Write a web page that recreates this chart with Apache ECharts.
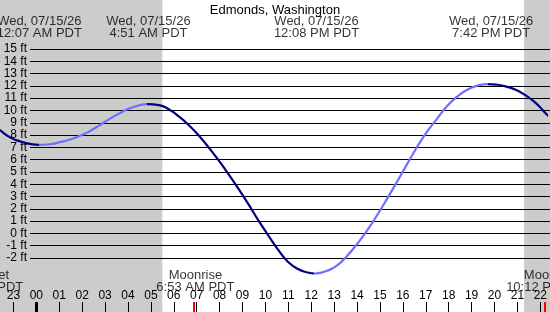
<!DOCTYPE html>
<html><head><meta charset="utf-8">
<script src="https://cdn.jsdelivr.net/npm/echarts@6/dist/echarts.min.js"></script>
<style>html,body{margin:0;padding:0;background:#fff}#c{width:550px;height:312px}</style>
</head><body><div id="c"></div>
<script>
// ---- data (hours after midnight of 07/15/26, PDT) ----
const stationName = 'Edmonds, Washington';
const dateLabel = 'Wed, 07/15/26';
const tideHours = [-1.80,-1.59,-1.15,-0.72,-0.29,0.12,0.58,1.01,1.45,1.88,2.32,2.75,3.18,3.62,4.05,4.48,4.85,5.35,5.78,6.22,6.65,7.08,7.52,7.95,8.38,8.82,9.25,9.68,10.12,10.55,10.98,11.42,11.85,12.13,12.42,12.72,13.15,13.58,14.02,14.45,14.88,15.32,15.75,16.19,16.62,17.05,17.49,17.92,18.35,18.79,19.22,19.70,20.09,20.52,20.95,21.39,21.82,22.25,22.50];
const tideFeet  = [8.75,8.41,7.81,7.49,7.28,7.20,7.25,7.41,7.62,7.92,8.30,8.79,9.30,9.76,10.16,10.42,10.52,10.44,10.10,9.52,8.82,7.98,7.00,5.96,4.85,3.64,2.40,1.10,-0.15,-1.32,-2.30,-2.90,-3.18,-3.26,-3.19,-3.02,-2.58,-1.80,-0.82,0.26,1.50,2.85,4.22,5.66,7.03,8.26,9.32,10.34,11.10,11.66,12.00,12.15,12.10,11.94,11.66,11.19,10.58,9.73,9.30];
const extremeHours = [0.117, 4.85, 12.133, 19.7];
const extremeTypes = ['L', 'H', 'L', 'H'];
const extremeTimes = ['12:07 AM PDT', '4:51 AM PDT', '12:08 PM PDT', '7:42 PM PDT'];
const moonHours = [-2.27, 6.883, 22.2];
const moonEvents = ['Moonset', 'Moonrise', 'Moonset'];
const moonTimes = ['9:44 PM PDT', '6:53 AM PDT', '10:12 PM PDT'];
const nightStarts = [-2.9, 21.13];
const nightEnds = [5.45, 29.4];
const hourTicks = [-1,0,1,2,3,4,5,6,7,8,9,10,11,12,13,14,15,16,17,18,19,20,21,22];
const feetMin = -2, feetMax = 15;

// ---- layout ----
const XMIN = -1.586, XMAX = 22.254;
const FONT = 'Liberation Sans';
const DARK = '#000080', LIGHT = '#6e6eff', SHADE = '#cccccc';
const PLOT_TOP = 49, PLOT_H = 209;

const pieces = [];
let prev = -Infinity;
extremeHours.forEach((h, i) => {
  pieces.push({ gte: prev, lt: h, color: extremeTypes[i] === 'L' ? DARK : LIGHT });
  prev = h;
});
pieces.push({ gte: prev, lt: Infinity, color: extremeTypes[extremeTypes.length - 1] === 'H' ? DARK : LIGHT });

const clampX = v => Math.min(Math.max(v, XMIN), XMAX);
const pad = n => String(((n % 24) + 24) % 24).padStart(2, '0');

const chart = echarts.init(document.getElementById('c'), null, { renderer: 'canvas' });
const noLine = { show: false, onZero: false };
const hidden = { show: false };
chart.setOption({
  animation: false,
  backgroundColor: '#fff',
  textStyle: { fontFamily: FONT, color: '#000' },
  title: {
    text: stationName, left: 'center', top: -1,
    textStyle: { fontFamily: FONT, fontSize: 13, fontWeight: 'normal', color: '#000' }
  },
  grid: [
    { left: 30, right: 0, top: PLOT_TOP, height: PLOT_H },
    { left: 0, right: 0, top: PLOT_TOP, height: PLOT_H },
    { left: 0, right: 0, top: 0, bottom: 0 }
  ],
  xAxis: [
    { gridIndex: 0, type: 'value', min: 0, max: 1, show: false },
    { gridIndex: 1, type: 'value', min: XMIN, max: XMAX, position: 'bottom', offset: 44, z: 3,
      axisLine: noLine, splitLine: hidden,
      axisTick: { show: true, customValues: hourTicks, length: 10, lineStyle: { color: '#000', width: 1 } },
      axisLabel: { show: true, inside: true, margin: 0, customValues: hourTicks,
        formatter: v => pad(Math.round(v)), fontFamily: FONT, fontSize: 12, color: '#000' } },
    { gridIndex: 2, type: 'value', min: XMIN, max: XMAX, show: false },
    { gridIndex: 1, type: 'value', min: XMIN, max: XMAX, position: 'bottom', offset: 44, z: 4,
      axisLine: noLine, splitLine: hidden, axisLabel: hidden,
      axisTick: { show: true, customValues: [0], length: 10, lineStyle: { color: '#000', width: 3 } } },
    { gridIndex: 1, type: 'value', min: XMIN, max: XMAX, position: 'bottom', offset: 44, z: 5,
      axisLine: noLine, splitLine: hidden, axisLabel: hidden,
      axisTick: { show: true, customValues: moonHours.filter(h => h >= XMIN && h <= XMAX), length: 10,
        lineStyle: { color: '#ff0000', width: 2 } } }
  ],
  yAxis: [
    { gridIndex: 0, type: 'value', min: feetMin, max: feetMax, interval: 1, z: 3,
      axisLine: noLine, axisTick: hidden,
      axisLabel: { margin: 3, formatter: v => v + ' ft', fontFamily: FONT, fontSize: 12, color: '#000' },
      splitLine: { show: true, lineStyle: { color: '#000', width: 1 } } },
    { gridIndex: 1, type: 'value', min: feetMin, max: feetMax, show: false },
    { gridIndex: 2, type: 'value', min: 0, max: 312, inverse: true, show: false }
  ],
  visualMap: { type: 'piecewise', show: false, dimension: 0, seriesIndex: 1, pieces: pieces },
  series: [
    { type: 'line', xAxisIndex: 2, yAxisIndex: 2, z: -1, data: [[XMIN, 0]], showSymbol: false,
      lineStyle: { opacity: 0 }, silent: true,
      markArea: { silent: true, itemStyle: { color: SHADE },
        data: nightStarts.map((s, i) => [{ xAxis: clampX(s) }, { xAxis: clampX(nightEnds[i]) }]) } },
    { type: 'line', xAxisIndex: 1, yAxisIndex: 1, z: 5, clip: false, smooth: 0.5, showSymbol: false,
      lineStyle: { width: 2.2 }, data: tideHours.map((h, i) => [h, tideFeet[i]]) },
    { type: 'scatter', xAxisIndex: 2, yAxisIndex: 2, z: 6, clip: false, symbolSize: 0, silent: true,
      data: extremeHours.map(h => [h, 15]),
      label: { show: true, position: 'bottom', distance: 0, align: 'center', lineHeight: 12,
        fontFamily: FONT, fontSize: 13, color: '#000',
        formatter: p => dateLabel + '\n' + extremeTimes[p.dataIndex] } },
    { type: 'scatter', xAxisIndex: 2, yAxisIndex: 2, z: 6, clip: false, symbolSize: 0, silent: true,
      data: moonHours.map(h => [h, 269]),
      label: { show: true, position: 'bottom', distance: 0, align: 'center', lineHeight: 12,
        fontFamily: FONT, fontSize: 13, color: '#000',
        formatter: p => moonEvents[p.dataIndex] + '\n' + moonTimes[p.dataIndex] } }
  ]
});
</script></body></html>
